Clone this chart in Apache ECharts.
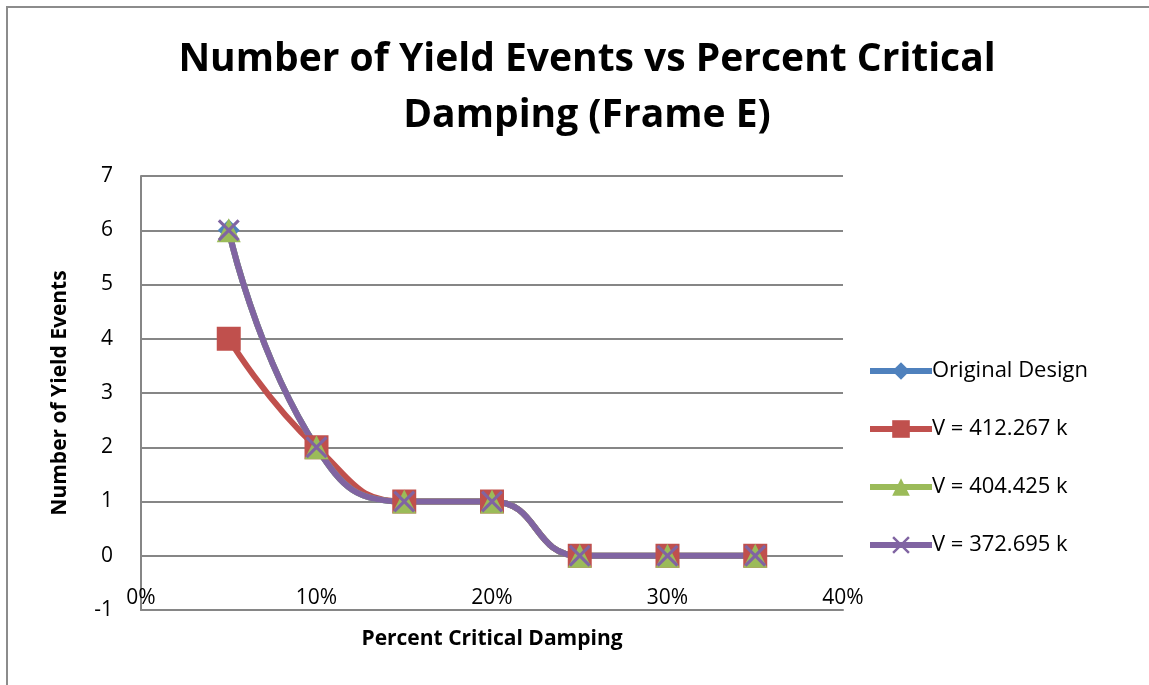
<!DOCTYPE html>
<html>
<head>
<meta charset="utf-8">
<script src="https://cdn.jsdelivr.net/npm/echarts@6/dist/echarts.min.js"></script>
<style>
html, body { margin: 0; padding: 0; background: #fff; }
#chart { width: 1149px; height: 685px; }
</style>
</head>
<body>
<div id="chart"></div>
<script>
// damping ratios (x) and yield event counts per design
var damping = [0.05, 0.10, 0.15, 0.20, 0.25, 0.30, 0.35];
var originalDesign = [6, 2, 1, 1, 0, 0, 0];
var v412 = [4, 2, 1, 1, 0, 0, 0];
var v404 = [6, 2, 1, 1, 0, 0, 0];
var v372 = [6, 2, 1, 1, 0, 0, 0];
var seriesNames = ['Original Design', 'V = 412.267 k', 'V = 404.425 k', 'V = 372.695 k'];

var font = 'Open Sans';
var xMark = 'path://M0,1 L1,0 L5,4 L9,0 L10,1 L6,5 L10,9 L9,10 L5,6 L1,10 L0,9 L4,5 Z';

function pairs(vals) {
    var out = [];
    for (var i = 0; i < damping.length; i++) {
        out.push([damping[i], vals[i]]);
    }
    return out;
}

function makeSeries(name, vals, color, symbol, size) {
    return {
        name: name,
        type: 'line',
        smooth: 0.5,
        data: pairs(vals),
        symbol: symbol,
        symbolSize: size,
        showAllSymbol: true,
        lineStyle: { color: color, width: 6 },
        itemStyle: { color: color },
        animation: false
    };
}

var chart = echarts.init(document.getElementById('chart'));
chart.setOption({
    backgroundColor: '#fff',
    graphic: [{
        type: 'rect',
        shape: { x: 7, y: 7, width: 1200, height: 800 },
        style: { fill: 'none', stroke: '#8c8c8c', lineWidth: 2 },
        silent: true
    }],
    title: {
        text: 'Number of Yield Events vs Percent Critical\nDamping (Frame E)',
        left: 582,
        textAlign: 'center',
        top: 27,
        textStyle: {
            fontFamily: font,
            fontWeight: 'bold',
            fontSize: 39,
            lineHeight: 56,
            color: '#000'
        }
    },
    legend: {
        orient: 'vertical',
        left: 862,
        top: 355,
        itemWidth: 62,
        itemHeight: 22,
        itemGap: 36,
        data: seriesNames,
        lineStyle: { width: 6 },
        textStyle: { fontFamily: font, fontSize: 22, lineHeight: 22, color: '#000', padding: [0, 0, 0, -5] }
    },
    grid: { left: 141, right: 306, top: 176, bottom: 75 },
    xAxis: {
        type: 'value',
        min: 0,
        max: 0.4,
        interval: 0.1,
        name: 'Percent Critical Damping',
        nameLocation: 'middle',
        nameGap: 19,
        nameTextStyle: { fontFamily: font, fontWeight: 'bold', fontSize: 21, color: '#000' },
        axisLine: { onZero: false, lineStyle: { color: '#868686', width: 2 } },
        axisTick: { show: false },
        splitLine: { show: false },
        axisLabel: {
            inside: true,
            margin: 1,
            fontFamily: font,
            fontSize: 21,
            color: '#000',
            formatter: function (v) { return Math.round(v * 100) + '%'; }
        }
    },
    yAxis: {
        type: 'value',
        min: -1,
        max: 7,
        interval: 1,
        name: 'Number of Yield Events',
        nameLocation: 'middle',
        nameRotate: 90,
        nameGap: 70,
        nameTextStyle: { fontFamily: font, fontWeight: 'bold', fontSize: 21, color: '#000' },
        axisLine: { show: true, onZero: false, lineStyle: { color: '#868686', width: 2 } },
        axisTick: { show: false },
        splitLine: { lineStyle: { color: '#868686', width: 2 } },
        axisLabel: { margin: 28, fontFamily: font, fontSize: 21, color: '#000' }
    },
    series: [
        makeSeries(seriesNames[0], originalDesign, '#4F81BD', 'diamond', 22),
        makeSeries(seriesNames[1], v412, '#C0504D', 'rect', 24),
        makeSeries(seriesNames[2], v404, '#9BBB59', 'triangle', 24),
        makeSeries(seriesNames[3], v372, '#8064A2', xMark, 22)
    ]
});
</script>
</body>
</html>
